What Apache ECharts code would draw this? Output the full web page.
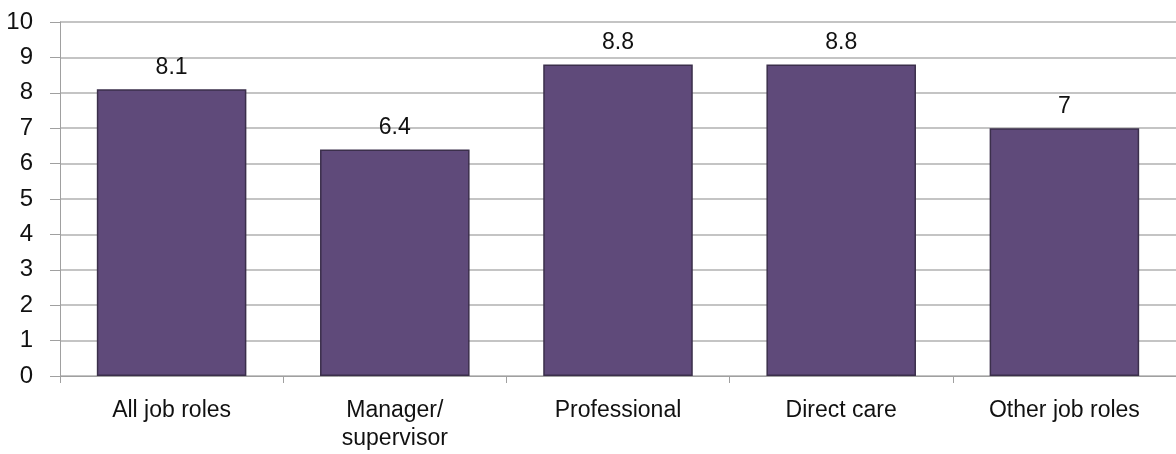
<!DOCTYPE html>
<html><head><meta charset="utf-8">
<script src="https://cdn.jsdelivr.net/npm/echarts@6/dist/echarts.min.js"></script>
<style>html,body{margin:0;padding:0;background:#fff}#c{width:1176px;height:454px}</style>
</head><body><div id="c"></div>
<script>
const categories = ["All job roles", "Manager/\nsupervisor", "Professional", "Direct care", "Other job roles"];
const values = [8.1, 6.4, 8.8, 8.8, 7];
const yTicks = [0,1,2,3,4,5,6,7,8,9,10];

const chart = echarts.init(document.getElementById('c'));
chart.setOption({
  animation: false,
  grid: {left: 60, right: 0, top: 22, bottom: 78},
  xAxis: {
    type: 'category', data: categories,
    axisLine: {lineStyle: {color: '#a0a0a0', width: 1}},
    axisTick: {show: true, length: 7, lineStyle: {color: '#a0a0a0'}},
    axisLabel: {color: '#111', fontFamily: 'Liberation Sans, Arial', fontSize: 23, margin: 21, lineHeight: 28}
  },
  yAxis: {
    type: 'value', min: 0, max: 10, interval: 1,
    axisLine: {show: true, lineStyle: {color: '#a0a0a0', width: 1}},
    axisTick: {show: true, length: 10, lineStyle: {color: '#a0a0a0'}},
    splitLine: {lineStyle: {color: '#c4c4c4', width: 2}},
    axisLabel: {color: '#111', fontFamily: 'Liberation Sans, Arial', fontSize: 24, margin: 27,
      formatter: v => yTicks.includes(v) ? String(v) : ''}
  },
  series: [{
    type: 'bar', data: values, barWidth: '67%',
    itemStyle: {color: '#5f4a7a', borderColor: '#3b2f4b', borderWidth: 1.5},
    label: {show: true, position: 'top', distance: 10, color: '#111', fontFamily: 'Liberation Sans, Arial', fontSize: 23}
  }]
});
</script></body></html>
